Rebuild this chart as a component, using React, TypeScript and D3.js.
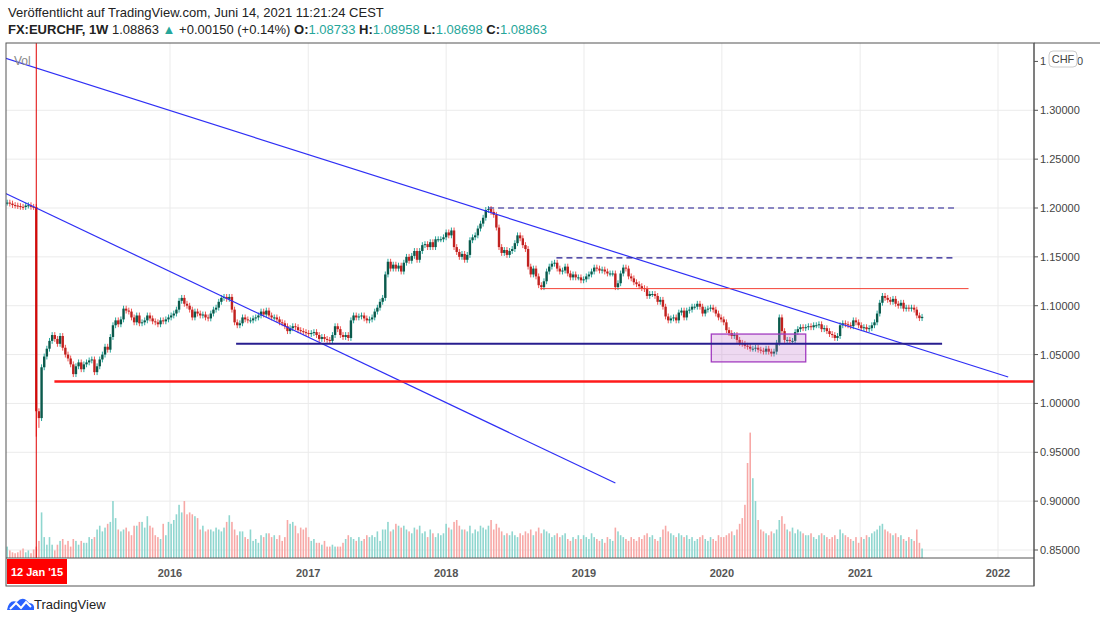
import * as d3 from 'd3';
import React from 'react';

// wöchentliche Schlusskurse EURCHF, ab Woche 27. Okt 2014
const closes2014 = [1.2055, 1.2045, 1.203, 1.2025, 1.202, 1.2012, 1.201, 1.2025, 1.2028, 1.2012, 1.201];
const closes2015 = [0.992, 0.985, 1.037, 1.048, 1.056, 1.064, 1.07, 1.066, 1.061, 1.069, 1.057, 1.05, 1.046, 1.04, 1.03, 1.038, 1.042, 1.035, 1.04, 1.042, 1.044, 1.045, 1.032, 1.038, 1.045, 1.05, 1.058, 1.055, 1.068, 1.08, 1.085, 1.081, 1.086, 1.097, 1.095, 1.094, 1.088, 1.083, 1.09, 1.082, 1.083, 1.085, 1.09, 1.087, 1.084, 1.083, 1.081, 1.085, 1.084, 1.086, 1.088];
const closes2016 = [1.09, 1.092, 1.096, 1.105, 1.108, 1.102, 1.1, 1.096, 1.088, 1.094, 1.092, 1.09, 1.091, 1.088, 1.087, 1.092, 1.096, 1.098, 1.104, 1.108, 1.109, 1.107, 1.109, 1.096, 1.083, 1.08, 1.082, 1.088, 1.086, 1.085, 1.085, 1.087, 1.088, 1.09, 1.094, 1.091, 1.095, 1.09, 1.088, 1.088, 1.086, 1.083, 1.082, 1.079, 1.074, 1.077, 1.079, 1.078, 1.075, 1.074, 1.073, 1.072];
const closes2017 = [1.071, 1.072, 1.073, 1.07, 1.066, 1.068, 1.066, 1.065, 1.064, 1.07, 1.079, 1.076, 1.07, 1.068, 1.07, 1.067, 1.085, 1.09, 1.088, 1.089, 1.09, 1.087, 1.085, 1.086, 1.088, 1.094, 1.098, 1.104, 1.108, 1.132, 1.145, 1.138, 1.142, 1.138, 1.141, 1.135, 1.144, 1.15, 1.146, 1.151, 1.156, 1.147, 1.156, 1.162, 1.163, 1.16, 1.165, 1.16, 1.168, 1.168, 1.168, 1.17];
const closes2018 = [1.175, 1.172, 1.177, 1.16, 1.155, 1.15, 1.153, 1.147, 1.152, 1.167, 1.17, 1.172, 1.179, 1.184, 1.19, 1.198, 1.199, 1.196, 1.193, 1.18, 1.16, 1.154, 1.157, 1.152, 1.156, 1.158, 1.164, 1.172, 1.169, 1.162, 1.158, 1.14, 1.132, 1.138, 1.13, 1.121, 1.119, 1.125, 1.135, 1.14, 1.143, 1.144, 1.138, 1.135, 1.136, 1.14, 1.133, 1.129, 1.132, 1.129, 1.129, 1.126];
const closes2019 = [1.127, 1.13, 1.132, 1.135, 1.139, 1.138, 1.136, 1.137, 1.135, 1.133, 1.133, 1.133, 1.119, 1.123, 1.133, 1.139, 1.138, 1.13, 1.128, 1.124, 1.122, 1.12, 1.118, 1.117, 1.11, 1.112, 1.112, 1.11, 1.104, 1.106, 1.099, 1.089, 1.085, 1.087, 1.088, 1.085, 1.093, 1.095, 1.088, 1.095, 1.096, 1.099, 1.099, 1.102, 1.099, 1.092, 1.096, 1.097, 1.098, 1.096, 1.092, 1.088, 1.086];
const closes2020 = [1.083, 1.075, 1.072, 1.069, 1.07, 1.065, 1.062, 1.061, 1.059, 1.058, 1.056, 1.056, 1.057, 1.055, 1.054, 1.053, 1.056, 1.053, 1.051, 1.053, 1.062, 1.088, 1.074, 1.065, 1.065, 1.064, 1.064, 1.073, 1.076, 1.078, 1.077, 1.078, 1.079, 1.078, 1.08, 1.08, 1.081, 1.076, 1.077, 1.074, 1.071, 1.07, 1.067, 1.069, 1.08, 1.082, 1.081, 1.08, 1.079, 1.085, 1.083, 1.08];
const closes2021 = [1.077, 1.078, 1.076, 1.077, 1.08, 1.083, 1.092, 1.103, 1.11, 1.108, 1.106, 1.104, 1.107, 1.102, 1.1, 1.103, 1.097, 1.098, 1.097, 1.098, 1.096, 1.09, 1.0873, 1.0886];

// Volumen (relative Einheiten)
const vol2014 = [12, 8, 6, 5, 6, 8, 10, 6, 8, 5, 9];
const vol2015 = [12, 18, 48, 22, 14, 22, 14, 8, 14, 18, 20, 14, 18, 12, 20, 18, 14, 18, 16, 16, 22, 20, 22, 30, 34, 28, 32, 36, 38, 60, 42, 30, 28, 30, 32, 28, 24, 34, 34, 38, 38, 32, 44, 34, 32, 24, 22, 20, 36, 24, 38];
const vol2016 = [36, 40, 46, 56, 48, 60, 46, 48, 46, 44, 42, 30, 34, 28, 30, 30, 28, 32, 30, 28, 32, 38, 45, 38, 30, 24, 28, 28, 22, 20, 30, 18, 20, 16, 24, 22, 26, 26, 22, 24, 20, 24, 18, 22, 40, 36, 38, 34, 26, 32, 30, 32];
const vol2017 = [22, 18, 20, 16, 16, 14, 18, 12, 12, 14, 12, 12, 12, 16, 20, 24, 22, 20, 18, 22, 18, 20, 24, 22, 24, 22, 28, 18, 30, 30, 38, 28, 30, 36, 34, 32, 34, 30, 28, 26, 32, 30, 34, 26, 28, 22, 30, 26, 22, 26, 24, 26];
const vol2018 = [36, 32, 30, 38, 40, 34, 30, 30, 28, 34, 26, 30, 28, 34, 32, 30, 34, 40, 30, 36, 32, 28, 24, 26, 24, 28, 24, 22, 26, 24, 28, 26, 30, 24, 28, 32, 26, 30, 28, 26, 22, 24, 26, 22, 24, 26, 20, 18, 22, 20, 24, 20];
const vol2019 = [24, 22, 20, 26, 22, 20, 18, 20, 16, 22, 20, 18, 32, 28, 24, 22, 20, 18, 22, 20, 18, 22, 20, 24, 26, 22, 24, 20, 18, 22, 30, 34, 28, 26, 24, 22, 26, 24, 22, 24, 20, 22, 18, 20, 22, 24, 20, 18, 22, 20, 18, 24, 22];
const vol2020 = [22, 24, 26, 28, 24, 30, 36, 42, 56, 100, 132, 84, 60, 40, 30, 28, 26, 24, 28, 26, 30, 40, 44, 36, 30, 28, 32, 26, 30, 28, 26, 24, 24, 26, 22, 20, 24, 26, 24, 22, 20, 22, 24, 20, 30, 26, 24, 22, 20, 18, 22, 16];
const vol2021 = [22, 20, 24, 22, 26, 28, 30, 34, 36, 30, 28, 26, 24, 26, 22, 24, 20, 18, 22, 20, 18, 30, 16, 10];

const closes = [...closes2014, ...closes2015, ...closes2016, ...closes2017, ...closes2018, ...closes2019, ...closes2020, ...closes2021];
const volumes = [...vol2014, ...vol2015, ...vol2016, ...vol2017, ...vol2018, ...vol2019, ...vol2020, ...vol2021];
const startWeek = new Date(2014, 9, 27);
// Dochte der SNB-Woche
const lowOverrides: Record<number, number> = { 11: 0.966, 12: 0.975 };

const yearTicks = [2016, 2017, 2018, 2019, 2020, 2021, 2022];
const priceTicks = [0.85, 0.9, 0.95, 1.0, 1.05, 1.1, 1.15, 1.2, 1.25, 1.3];

// Zeichnungen: [datum, kurs]
const trendLong: [Date, number][] = [[new Date(2014, 9, 20), 1.3535], [new Date(2022, 0, 28), 1.027]];
const trendShort: [Date, number][] = [[new Date(2014, 9, 20), 1.2154], [new Date(2019, 2, 25), 0.9185]];
const dashedLines: [Date, Date, number][] = [
    [new Date(2018, 3, 22), new Date(2021, 8, 10), 1.2],
    [new Date(2018, 9, 20), new Date(2021, 8, 5), 1.149],
];
const redThin: [Date, Date, number] = [new Date(2018, 8, 7), new Date(2021, 9, 15), 1.1175];
const navyLine: [Date, Date, number] = [new Date(2016, 5, 24), new Date(2021, 7, 6), 1.061];
const redThick: [Date, Date, number] = [new Date(2015, 2, 1), new Date(2023, 0, 1), 1.0225];
const box: [Date, Date, number, number] = [new Date(2019, 11, 4), new Date(2020, 7, 10), 1.071, 1.0425];

const W = 1100, H = 623;
const left = 6, right = 1034, top = 43, bottom = 558;
const UP = '#0b5a4c', DOWN = '#c0211f', UPW = '#26a69a', DOWNW = '#ef5350';
const font = 'Arial, "Liberation Sans", sans-serif';

const App: React.FC = () => {
    const x = d3.scaleTime().domain([new Date(2016, 0, 1), new Date(2022, 0, 1)]).range([170, 998]);
    const y = d3.scaleLinear().domain([0.85, 1.2]).range([550, 208]);
    const yv = d3.scaleLinear().domain([0, 140]).range([bottom, 425]);

    const candles = closes.map((c, i) => {
        const o = i === 0 ? c : closes[i - 1];
        const date = d3.timeWeek.offset(startWeek, i);
        return {
            date, o, c,
            h: Math.max(o, c) + 0.003,
            l: lowOverrides[i] ?? Math.min(o, c) - 0.003,
            v: volumes[i] ?? 0,
        };
    });

    const line = d3.line<[Date, number]>().x((d) => x(d[0])).y((d) => y(d[1]));
    const snbX = x(new Date(2015, 0, 12));

    return (
        <svg width={W} height={H} style={{ position: 'absolute', left: 0, top: 0, fontFamily: font }}>
            <rect width={W} height={H} fill="#fff" />
            <text x={8} y={17} fontSize={13} fill="#222">Veröffentlicht auf TradingView.com, Juni 14, 2021 11:21:24 CEST</text>
            <text x={8} y={34} fontSize={13} fill="#222">
                <tspan fontWeight="bold">FX:EURCHF, 1W</tspan>
                <tspan> 1.08863 </tspan>
                <tspan fill="#26a69a">▲</tspan>
                <tspan> +0.00150 (+0.14%) </tspan>
                <tspan fontWeight="bold">O:</tspan><tspan fill="#26a69a">1.08733 </tspan>
                <tspan fontWeight="bold">H:</tspan><tspan fill="#26a69a">1.08958 </tspan>
                <tspan fontWeight="bold">L:</tspan><tspan fill="#26a69a">1.08698 </tspan>
                <tspan fontWeight="bold">C:</tspan><tspan fill="#26a69a">1.08863</tspan>
            </text>

            <defs>
                <clipPath id="plot"><rect x={left} y={top} width={right - left} height={bottom - top} /></clipPath>
            </defs>

            {/* Gitter */}
            <g stroke="#ebebeb" strokeWidth={1}>
                {yearTicks.map((t) => <line key={t} x1={x(new Date(t, 0, 1))} x2={x(new Date(t, 0, 1))} y1={top} y2={bottom} />)}
                {priceTicks.map((p) => <line key={p} x1={left} x2={right} y1={y(p)} y2={y(p)} />)}
            </g>

            <g clipPath="url(#plot)">
                {/* Volumen */}
                {candles.map((d, i) => (
                    <rect key={'v' + i} x={x(d.date) - 0.8} width={1.6} y={yv(d.v)} height={bottom - yv(d.v)}
                        fill={d.c >= d.o ? '#8fd6cf' : '#f7a8a6'} />
                ))}
                {/* Kerzen */}
                {candles.map((d, i) => {
                    const cx = x(d.date);
                    const up = d.c >= d.o;
                    const yt = y(Math.max(d.o, d.c)), yb = y(Math.min(d.o, d.c));
                    return (
                        <g key={'c' + i}>
                            <line x1={cx} x2={cx} y1={y(d.h)} y2={y(d.l)} stroke={up ? UPW : DOWNW} strokeWidth={1} />
                            <rect x={cx - 1.2} width={2.4} y={yt} height={Math.max(1, yb - yt)} fill={up ? UP : DOWN} />
                        </g>
                    );
                })}

                <rect x={x(box[0])} y={y(box[2])} width={x(box[1]) - x(box[0])} height={y(box[3]) - y(box[2])}
                    fill="rgba(186,104,200,0.25)" stroke="#a23cc0" strokeWidth={1.3} />
                <path d={line(trendLong) ?? ''} stroke="#2f2ff5" strokeWidth={1.2} fill="none" />
                <path d={line(trendShort) ?? ''} stroke="#2f2ff5" strokeWidth={1.2} fill="none" />
                {dashedLines.map((d, i) => (
                    <line key={'d' + i} x1={x(d[0])} x2={x(d[1])} y1={y(d[2])} y2={y(d[2])} stroke="#1f168f" strokeWidth={1.2} strokeDasharray="6 4" />
                ))}
                <line x1={x(redThin[0])} x2={x(redThin[1])} y1={y(redThin[2])} y2={y(redThin[2])} stroke="#f44336" strokeWidth={1} />
                <line x1={x(navyLine[0])} x2={x(navyLine[1])} y1={y(navyLine[2])} y2={y(navyLine[2])} stroke="#281e8f" strokeWidth={2} />
                <line x1={x(redThick[0])} x2={x(redThick[1])} y1={y(redThick[2])} y2={y(redThick[2])} stroke="#ff1a1a" strokeWidth={2.5} />
                <line x1={snbX} x2={snbX} y1={top} y2={bottom} stroke="#e00000" strokeWidth={1} />
            </g>

            <text x={14} y={65} fontSize={12} fill="#888">Vol</text>

            {/* Rahmen */}
            <rect x={left} y={top} width={right - left} height={586 - top} fill="none" stroke="#555" strokeWidth={1} />
            <line x1={left} x2={right} y1={bottom} y2={bottom} stroke="#555" />
            <line x1={right} x2={right} y1={top} y2={586} stroke="#555" />
            <line x1={right} x2={W} y1={top} y2={top} stroke="#555" />

            {/* Preisachse */}
            <g fontSize={11} fill="#444">
                {priceTicks.map((p) => (
                    <g key={p}>
                        <line x1={right} x2={right + 4} y1={y(p)} y2={y(p)} stroke="#555" />
                        <text x={1040} y={y(p) + 4}>{p.toFixed(5)}</text>
                    </g>
                ))}
                <line x1={right} x2={right + 4} y1={y(1.35)} y2={y(1.35)} stroke="#555" />
                <text x={1040} y={y(1.35) + 4}>1</text>
                <text x={1077} y={y(1.35) + 4}>0</text>
            </g>
            <rect x={1049} y={51} width={28} height={16} rx={4} fill="#fff" stroke="#ccc" />
            <text x={1063} y={63} fontSize={11} fill="#444" textAnchor="middle">CHF</text>

            {/* Zeitachse */}
            <g fontSize={11} fill="#555" fontWeight="bold" textAnchor="middle">
                {yearTicks.map((t) => <text key={t} x={x(new Date(t, 0, 1))} y={577}>{t}</text>)}
            </g>
            <rect x={left + 1} y={bottom + 1} width={60} height={25} fill="#ff0000" />
            <text x={37} y={576} fontSize={11} fill="#fff" fontWeight="bold" textAnchor="middle">12 Jan '15</text>

            {/* Logo */}
            <g transform="translate(7,597)">
                <path d="M0,13 Q2,2 10,5 Q16,-2 22,6 Q28,6 27,13 Z" fill="#2962ff" />
                <path d="M3,12 L9,6 L14,11 L19,5 L24,10" stroke="#fff" strokeWidth={2} fill="none" />
            </g>
            <text x={34} y={609} fontSize={13} fill="#222">TradingView</text>
        </svg>
    );
};

export default App;
